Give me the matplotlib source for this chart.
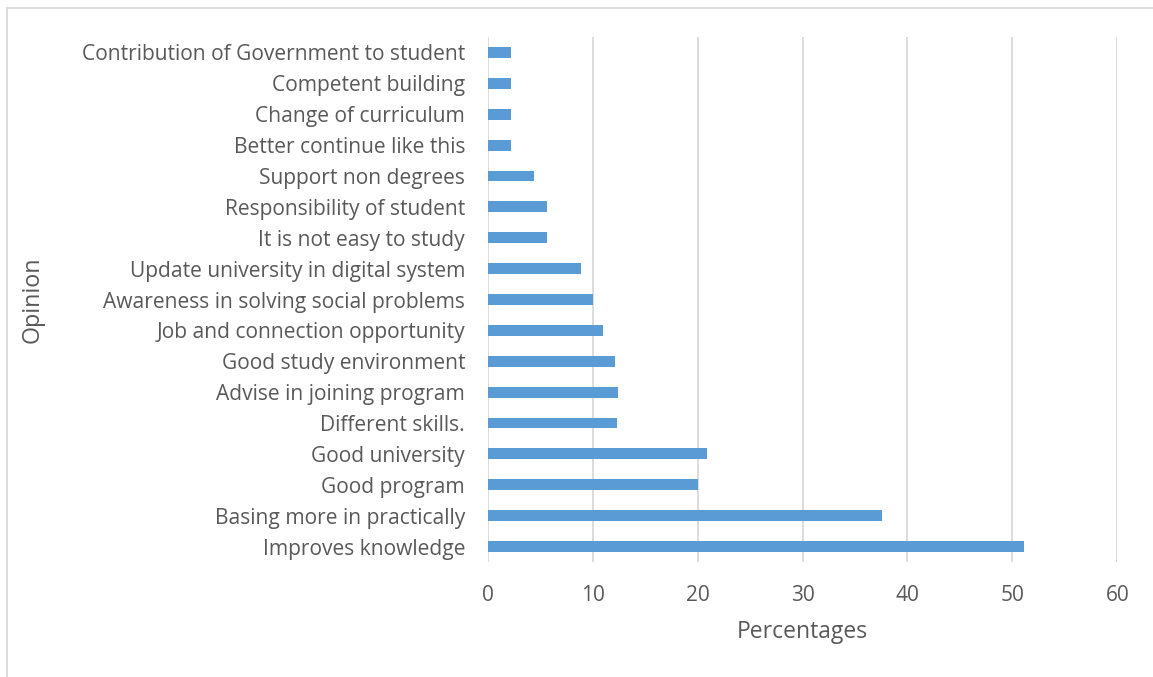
import matplotlib
matplotlib.use("Agg")
import matplotlib.pyplot as plt
from matplotlib.patches import Rectangle

opinions = [
    "Improves knowledge",
    "Basing more in practically",
    "Good program",
    "Good university",
    "Different skills.",
    "Advise in joining program",
    "Good study environment",
    "Job and connection opportunity",
    "Awareness in solving social problems",
    "Update university in digital system",
    "It is not easy to study",
    "Responsibility of student",
    "Support non degrees",
    "Better continue like this",
    "Change of curriculum",
    "Competent building",
    "Contribution of Government to student",
]
percentages = [51.1, 37.6, 20.0, 20.9, 12.3, 12.4, 12.1, 11.0, 10.0, 8.9,
               5.6, 5.6, 4.4, 2.2, 2.2, 2.2, 2.2]
xticks = [0, 10, 20, 30, 40, 50, 60]

plt.rcParams['font.family'] = ['Open Sans', 'DejaVu Sans']
text_color = '#595959'
grid_color = '#d9d9d9'

fig = plt.figure(figsize=(11.53, 6.77), dpi=100)
ax = fig.add_axes([0.4232, 0.1699, 0.5458, 0.7754])

ax.barh(range(len(opinions)), percentages, height=0.35, color='#5b9bd5', zorder=3)

ax.set_xlim(0, 60)
ax.set_ylim(-0.5, len(opinions) - 0.5)
ax.set_xticks(xticks)
ax.set_yticks(range(len(opinions)))
ax.set_yticklabels(opinions)

ax.grid(axis='x', color=grid_color, linewidth=1.3, zorder=0)
for s in ax.spines.values():
    s.set_visible(False)
ax.tick_params(axis='both', length=0, colors=text_color)
ax.tick_params(axis='y', labelsize=15.1, pad=16.5)
ax.tick_params(axis='x', labelsize=15, pad=16.5)

ax.set_xlabel('Percentages', fontsize=16.5, color=text_color, va='center')
ax.set_ylabel('Opinion', fontsize=16.8, color=text_color, va='center')
ax.xaxis.set_label_coords(0.5, -0.133)
ax.yaxis.set_label_coords(-0.724, 0.5)

# chart frame
fig.patches.append(Rectangle((0.006, -0.1), 1.2, 1.088, transform=fig.transFigure,
                             fill=False, edgecolor=grid_color, linewidth=1.3))

fig.savefig('out.png', dpi=100)
